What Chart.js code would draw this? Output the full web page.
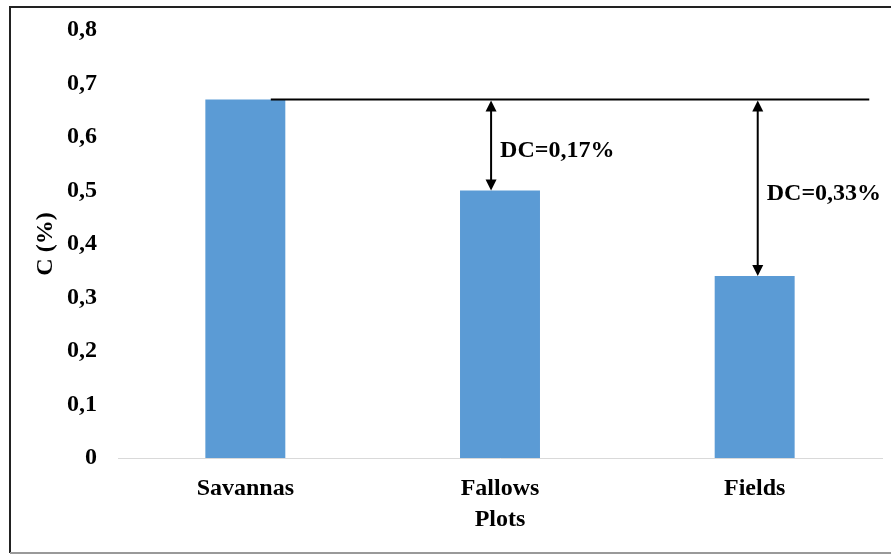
<!DOCTYPE html>
<html>
<head>
<meta charset="utf-8">
<script src="https://cdn.jsdelivr.net/npm/chart.js@4/dist/chart.umd.min.js"></script>
<style>
html,body{margin:0;padding:0;background:#fff;}
canvas{display:block;}
</style>
</head>
<body>
<canvas id="c" width="891" height="555"></canvas>
<script>
// ---- data ----
const categories = ['Savannas', 'Fallows', 'Fields'];
const carbonValues = [0.67, 0.50, 0.34];
const referenceValue = 0.67;
const dcLabels = ['DC=0,17%', 'DC=0,33%'];
const dcTargets = [1, 2]; // category index for each difference arrow
const yTicks = [0, 0.1, 0.2, 0.3, 0.4, 0.5, 0.6, 0.7, 0.8];

const FONT = "'Liberation Serif','Times New Roman',serif";

const annotate = {
  id: 'annotate',
  beforeDraw(chart) {
    const ctx = chart.ctx;
    ctx.save();
    ctx.fillStyle = '#fff';
    ctx.fillRect(0, 0, chart.width, chart.height);
    ctx.lineWidth = 2;
    ctx.strokeStyle = '#222';
    ctx.beginPath();
    ctx.moveTo(891, 7); ctx.lineTo(10, 7); ctx.lineTo(10, 553);
    ctx.stroke();
    ctx.strokeStyle = '#999';
    ctx.beginPath();
    ctx.moveTo(10, 553); ctx.lineTo(891, 553);
    ctx.stroke();
    ctx.restore();
  },
  afterDatasetsDraw(chart) {
    const ctx = chart.ctx;
    const xs = chart.scales.x, ys = chart.scales.y;
    const yRef = ys.getPixelForValue(referenceValue);
    ctx.save();
    ctx.strokeStyle = '#000';
    ctx.fillStyle = '#000';
    ctx.lineWidth = 2;
    ctx.beginPath();
    ctx.moveTo(xs.getPixelForValue(0.1), yRef);
    ctx.lineTo(xs.getPixelForValue(2.45), yRef);
    ctx.stroke();
    const offsets = [-0.035, 0.012];
    dcTargets.forEach((idx, i) => {
      const x = xs.getPixelForValue(idx + offsets[i]);
      const yB = ys.getPixelForValue(carbonValues[idx]);
      const head = 11, hw = 5.5;
      ctx.lineWidth = 2;
      ctx.beginPath();
      ctx.moveTo(x, yRef + head - 1);
      ctx.lineTo(x, yB - head + 1);
      ctx.stroke();
      ctx.beginPath();
      ctx.moveTo(x, yRef + 1); ctx.lineTo(x - hw, yRef + head + 1); ctx.lineTo(x + hw, yRef + head + 1); ctx.closePath();
      ctx.fill();
      ctx.beginPath();
      ctx.moveTo(x, yB); ctx.lineTo(x - hw, yB - head); ctx.lineTo(x + hw, yB - head); ctx.closePath();
      ctx.fill();
      ctx.font = "bold 24px " + FONT;
      ctx.textAlign = 'left';
      ctx.textBaseline = 'middle';
      ctx.fillText(dcLabels[i], x + 9, (yRef + yB) / 2 + 6);
    });
    ctx.restore();
  }
};

new Chart(document.getElementById('c'), {
  type: 'bar',
  data: {
    labels: categories,
    datasets: [{
      data: carbonValues,
      backgroundColor: '#5B9BD5',
      borderWidth: 0,
      categoryPercentage: 1,
      barPercentage: 0.314
    }]
  },
  options: {
    responsive: false,
    animation: false,
    devicePixelRatio: 1,
    layout: { padding: { top: 30, left: 10, right: 9, bottom: 0 } },
    plugins: { legend: { display: false }, tooltip: { enabled: false } },
    scales: {
      x: {
        grid: { display: false, drawTicks: false },
        border: { display: true, color: '#d9d9d9', width: 1 },
        ticks: { color: '#000', padding: 16, font: { family: FONT, size: 24, weight: 'bold' } },
        title: { display: true, text: 'Plots', color: '#000', padding: { top: 21, bottom: 21 },
                 font: { family: FONT, size: 24, weight: 'bold' } },
        afterFit(s) { s.height = 97; s.paddingLeft = 0; s.paddingRight = 0; }
      },
      y: {
        min: 0, max: 0.8,
        afterBuildTicks(s) { s.ticks = yTicks.map(v => ({ value: v })); },
        grid: { display: false, drawTicks: false },
        border: { display: false },
        ticks: {
          color: '#000', padding: 21,
          font: { family: FONT, size: 24, weight: 'bold' },
          callback: v => v === 0 ? '0' : Number(v).toFixed(1).replace('.', ',')
        },
        title: { display: true, text: 'C (%)', color: '#000', padding: { top: 21, bottom: 21 },
                 font: { family: FONT, size: 24, weight: 'bold' } },
        afterFit(s) { s.width = 108; s.paddingTop = 0; s.paddingBottom = 0; }
      }
    }
  },
  plugins: [annotate]
});
</script>
</body>
</html>
